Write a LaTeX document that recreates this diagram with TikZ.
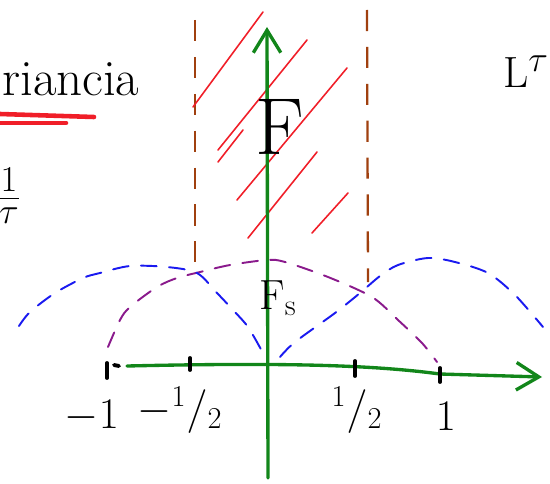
\documentclass[tikz,border=0pt]{standalone}
\usepackage{xcolor}
\usepackage{tikz}
\usetikzlibrary{arrows.meta, positioning, calc}
\definecolor{pen-green}{HTML}{12861A}
\definecolor{pen-blue}{HTML}{1A1AF0}
\definecolor{pen-purple}{HTML}{8A1A8C}
\definecolor{pen-brown}{HTML}{A0400F}
\definecolor{pen-red}{HTML}{F01E28}

\begin{document}
\begin{tikzpicture}[
    x=0.02cm, y=-0.02cm,
    axis/.style={draw=pen-green, line width=1.9pt, line cap=round, -{Straight Barb[length=0.45cm, width=0.55cm, line width=1.9pt]}},
    tick/.style={draw=black, line width=2.2pt, line cap=round},
    band/.style={draw=pen-brown, line width=1.3pt, dash pattern=on 12pt off 9pt},
    hatch/.style={draw=pen-red, line width=0.9pt, line cap=round},
    lobe/.style={line width=1.1pt, dash pattern=on 9pt off 7pt, line cap=round},
    hand/.style={font=\fontsize{24}{28}\selectfont, inner sep=0pt}
]
    \useasboundingbox (0,0) rectangle (550,483);

    % Title word, underlined
    \node (word) [hand, font=\fontsize{29}{33}\selectfont, anchor=base west] at (2,95) {riancia};
    \draw[pen-red, line width=2.6pt, line cap=round] (0,114) -- (94,117);
    \draw[pen-red, line width=2.6pt, line cap=round] (0,123) -- (66,123);

    \node (frac) [hand, font=\fontsize{30}{34}\selectfont] at (9,196) {$\frac{1}{\tau}$};
    \node (ltau) [hand, font=\fontsize{32}{36}\selectfont] at (526,72) {$\mathrm{L}^{\tau}$};

    % Pass band edges
    \draw[band] (195,20) -- (195,268);
    \draw[band] (367,10) -- (368,282);

    % Hatching of F
    \draw[hatch] (193,107) -- (263,12);
    \draw[hatch] (218,150) -- (307,40);
    \draw[hatch] (218,162) -- (243,130);
    \draw[hatch] (237,200) -- (347,68);
    \draw[hatch] (248,238) -- (317,152);
    \draw[hatch] (312,233) -- (348,193);

    % Spectrum lobes
    \draw[lobe, pen-purple] plot[smooth] coordinates {(108,347) (120,320) (130,307) (157,287) (177,278) (200,272) (230,265) (267,260) (285,262) (328,277) (372,297) (398,320) (422,343) (437,362)};
    \draw[lobe, pen-blue] plot[smooth] coordinates {(19,326) (30,312) (55,293) (83,278) (100,273) (130,266) (167,267) (197,273) (217,293) (233,310) (248,327) (263,353)};
    \draw[lobe, pen-blue] plot[smooth] coordinates {(280,357) (295,342) (335,313) (360,293) (380,276) (398,265) (428,258) (455,262) (488,273) (515,295) (543,327)};

    % Axes
    \coordinate (xs) at (127,366);
    \coordinate (xe) at (542,377);
    \coordinate (ys) at (268,478);
    \coordinate (ye) at (267,27);
    \draw[axis] (xs) .. controls (300,362) and (380,366) .. (440,374) -- (xe);
    \draw[axis] (ys) -- (ye);

    % Ticks and labels
    \draw[tick] (107,363) -- (107,378);
    \draw[tick] (114,365) -- (119,366);
    \draw[tick] (190,358) -- (190,370);
    \draw[tick] (355,361) -- (355,376);
    \draw[tick] (440,368) -- (440,382);
    \node (lm1) [hand] at (92,416) {$-1$};
    \node (lmh) [hand] at (180,410) {$-{}^{1}/{}_{2}$};
    \node (lph) [hand] at (357,410) {${}^{1}/{}_{2}$};
    \node (lp1) [hand] at (446,416) {$1$};

    % Spectra names
    \node (bigF) [inner sep=0pt, font=\fontsize{46}{50}\selectfont] at (280,127) {F};
    \node (smallF) [hand] at (278,298) {F$_{\mathrm{s}}$};
\end{tikzpicture}
\end{document}
